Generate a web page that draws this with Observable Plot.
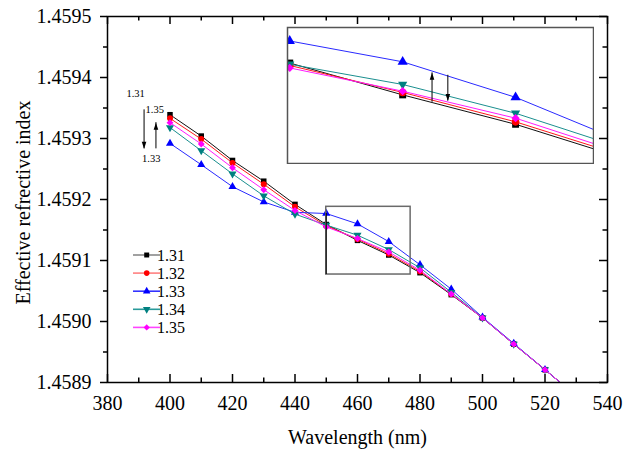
<!DOCTYPE html>
<html><head><meta charset="utf-8">
<script src="https://cdn.jsdelivr.net/npm/d3@7"></script>
<script src="https://cdn.jsdelivr.net/npm/@observablehq/plot@0.6"></script>
<style>
html,body{margin:0;padding:0;background:#fff;}
#wrap{position:relative;width:628px;height:450px;overflow:hidden;}
#inset{position:absolute;left:286px;top:26px;}
svg{display:block;}
#main svg, #main svg text{font-family:"Liberation Serif","Times New Roman","DejaVu Serif",serif !important;}
</style></head><body><div id="wrap"><div id="main"></div><div id="inset"></div></div>
<script>
// ---- data ----
const wavelength = [400, 410, 420, 430, 440, 450, 460, 470, 480, 490, 500, 510, 520, 530];
const n131 = [1.459339, 1.459304, 1.459264, 1.459230, 1.459192, 1.459159, 1.459133, 1.459109, 1.459080, 1.459044, 1.459006, 1.458963, 1.458921, 1.458878];
const n132 = [1.459333, 1.459299, 1.459260, 1.459225, 1.459188, 1.459157, 1.459135, 1.459111, 1.459082, 1.459045, 1.459006, 1.458963, 1.458921, 1.458878];
const n133 = [1.459292, 1.459257, 1.459221, 1.459196, 1.459179, 1.459177, 1.459160, 1.459131, 1.459093, 1.459053, 1.459007, 1.458964, 1.458921, 1.458878];
const n134 = [1.459318, 1.459280, 1.459242, 1.459206, 1.459176, 1.459158, 1.4591415, 1.459118, 1.459088, 1.459048, 1.459006, 1.458963, 1.458921, 1.458878];
const n135 = [1.459326, 1.459291, 1.459252, 1.459216, 1.459182, 1.459155, 1.459136, 1.459114, 1.459084, 1.459045, 1.459006, 1.458963, 1.458921, 1.458878];
const seriesNames = ["1.31", "1.32", "1.33", "1.34", "1.35"];
const seriesValues = [n131, n132, n133, n134, n135];

const xMajor = [380, 400, 420, 440, 460, 480, 500, 520, 540];
const xMinor = [390, 410, 430, 450, 470, 490, 510, 530];
const yMajor = [1.4589, 1.4590, 1.4591, 1.4592, 1.4593, 1.4594, 1.4595];
const yMinor = [1.45895, 1.45905, 1.45915, 1.45925, 1.45935, 1.45945];

// zoom box (main chart) and inset domain
const zoomX = [450, 477];
const zoomY = [1.459077, 1.459188];
const insetX = [449.8, 476.9];
const insetY = [1.459077, 1.459188];

// annotations
const noteLabels = ["1.31", "1.35", "1.33"];
const noteX = [389.0, 395.1, 394.0];
const noteY = [1.459373, 1.459347, 1.459267];
const arrowX = [391.7, 395.5];
const arrowFrom = [1.459347, 1.459283];
const arrowTo = [1.459283, 1.459326];
const insetArrowX = [462.6, 464.0];
const insetArrowFrom = [1.459127, 1.459149];
const insetArrowTo = [1.459151, 1.459128];

// ---- styles ----
const markerColors = ["#000000", "#ff0000", "#0000ff", "#008080", "#ff00ff"];
const lineColors = ["#111111", "#ff1a1a", "#2a2aff", "#1a8f8f", "#ff1aff"];
const legendLineColors = ["#8a8a8a", "#ff8080", "#3333ff", "#2a9a9a", "#ff44ff"];
const triangleDown = {draw(ctx, size) {const s3 = Math.sqrt(3); const y = -Math.sqrt(size / (s3 * 3)); ctx.moveTo(0, -y * 2); ctx.lineTo(-s3 * y, y); ctx.lineTo(s3 * y, y); ctx.closePath();}};
const arrowUp = {draw(ctx) {ctx.moveTo(0, 0); ctx.lineTo(-2.3, 7); ctx.lineTo(2.3, 7); ctx.closePath();}};
const arrowDown = {draw(ctx) {ctx.moveTo(0, 0); ctx.lineTo(-2.3, -7); ctx.lineTo(2.3, -7); ctx.closePath();}};
const symbols = ["square", "circle", "triangle", triangleDown, "diamond2"];
const mainR = [3.1, 3.0, 3.0, 3.0, 3.1];
const insetR = [3.9, 3.8, 3.8, 3.4, 3.7];

const rows = seriesNames.map((s, i) => wavelength.map((w, j) => ({series: s, x: w, y: seriesValues[i][j]})));

const pxX = (540 - 380) / 500;
const pxY = (1.4595 - 1.4589) / 366;
const serif = "Liberation Serif, Times New Roman, DejaVu Serif, serif";

function seriesMarks(rList) {
  const m = [];
  rows.forEach((r, i) => {
    m.push(Plot.line(r, {x: "x", y: "y", stroke: lineColors[i], strokeWidth: 1, clip: true}));
    m.push(Plot.dot(r, {x: "x", y: "y", symbol: symbols[i], fill: markerColors[i], stroke: "none", r: rList[i], clip: true}));
  });
  return m;
}

const arrows = arrowX.map((x, i) => ({x, y1: arrowFrom[i], y2: arrowTo[i]}));
const notes = noteLabels.map((t, i) => ({t, x: noteX[i], y: noteY[i]}));

const chart = Plot.plot({
  width: 628, height: 450,
  marginLeft: 107, marginRight: 21, marginTop: 16, marginBottom: 68,
  style: {fontFamily: serif, fontSize: "20px", color: "black", background: "white", overflow: "visible"},
  x: {domain: [380, 540], ticks: xMajor, tickSize: 0, tickPadding: 13, label: null},
  y: {domain: [1.4589, 1.4595], ticks: yMajor, tickSize: 0, tickPadding: 16, tickFormat: d3.format(".4f"), label: null},
  marks: [
    ...seriesMarks(mainR),
    Plot.rect([0], {x1: zoomX[0], x2: zoomX[1], y1: zoomY[0], y2: zoomY[1], fill: "none", stroke: "#6a6a6a", strokeWidth: 1.5}),
    Plot.ruleX([0], {x: zoomX[0], y1: zoomY[0], y2: n133[5], stroke: "black", strokeWidth: 1}),
    // annotations
    Plot.ruleX(arrows, {x: "x", y1: "y1", y2: "y2", stroke: "black", strokeWidth: 1}),
    Plot.dot([arrows[0]], {x: "x", y: "y2", symbol: arrowDown, fill: "black", stroke: "none"}),
    Plot.dot([arrows[1]], {x: "x", y: "y2", symbol: arrowUp, fill: "black", stroke: "none"}),
    Plot.text(notes, {x: "x", y: "y", text: "t", fontSize: 10.5, fill: "black"}),
    // ticks
    Plot.ruleX(xMajor, {x: d => d, y1: 1.4589, y2: 1.4589 + 8 * pxY, strokeWidth: 1.5}),
    Plot.ruleX(xMinor, {x: d => d, y1: 1.4589, y2: 1.4589 + 4.5 * pxY, strokeWidth: 1.5}),
    Plot.ruleX(xMajor, {x: d => d, y1: 1.4595, y2: 1.4595 - 8 * pxY, strokeWidth: 1.5}),
    Plot.ruleX(xMinor, {x: d => d, y1: 1.4595, y2: 1.4595 - 4.5 * pxY, strokeWidth: 1.5}),
    Plot.ruleY(yMajor, {y: d => d, x1: 380 - 7 * pxX, x2: 380, strokeWidth: 1.5}),
    Plot.ruleY(yMinor, {y: d => d, x1: 380 - 4 * pxX, x2: 380, strokeWidth: 1.5}),
    Plot.ruleY(yMajor, {y: d => d, x1: 540, x2: 540 - 8 * pxX, strokeWidth: 1.5}),
    Plot.ruleY(yMinor, {y: d => d, x1: 540, x2: 540 - 4.5 * pxX, strokeWidth: 1.5}),
    Plot.frame({stroke: "black", strokeWidth: 1.5}),
    // axis titles
    Plot.text(["Wavelength (nm)"], {text: d => d, frameAnchor: "bottom", textAnchor: "middle", lineAnchor: "middle", dy: 55, fontSize: 20, fill: "black"}),
    Plot.text(["Effective refrective index"], {text: d => d, frameAnchor: "left", textAnchor: "middle", lineAnchor: "middle", dx: -84, dy: 3, rotate: -90, fontSize: 20, fill: "black"})
  ]
});
document.getElementById("main").appendChild(chart);

// legend
const svg = d3.select(chart);
const lg = svg.append("g").attr("font-size", 16);
seriesNames.forEach((s, i) => {
  const y = 255 + i * 18.1;
  lg.append("line").attr("x1", 133).attr("x2", 160).attr("y1", y).attr("y2", y)
    .attr("stroke", legendLineColors[i]).attr("stroke-width", 1.6);
  const sym = typeof symbols[i] === "string"
    ? {square: d3.symbolSquare, circle: d3.symbolCircle, triangle: d3.symbolTriangle, diamond2: d3.symbolDiamond2}[symbols[i]]
    : symbols[i];
  lg.append("path").attr("d", d3.symbol(sym, Math.PI * 2.8 * 2.8)()).attr("transform", `translate(146.7,${y})`)
    .attr("fill", markerColors[i]);
  lg.append("text").attr("x", 171).attr("y", y).attr("dy", "0.35em").attr("fill", "black").text(s);
});

// inset
const insetArrows = insetArrowX.map((x, i) => ({x, y1: insetArrowFrom[i], y2: insetArrowTo[i]}));
const inset = Plot.plot({
  width: 308, height: 138, margin: 1,
  style: {background: "white"},
  x: {domain: insetX, axis: null},
  y: {domain: insetY, axis: null},
  marks: [
    ...seriesMarks(insetR),
    Plot.ruleX(insetArrows, {x: "x", y1: "y1", y2: "y2", stroke: "black", strokeWidth: 1}),
    Plot.dot([insetArrows[0]], {x: "x", y: "y2", symbol: arrowUp, fill: "black", stroke: "none"}),
    Plot.dot([insetArrows[1]], {x: "x", y: "y2", symbol: arrowDown, fill: "black", stroke: "none"}),
    Plot.frame({stroke: "#555", strokeWidth: 1.5})
  ]
});
document.getElementById("inset").appendChild(inset);
</script></body></html>
